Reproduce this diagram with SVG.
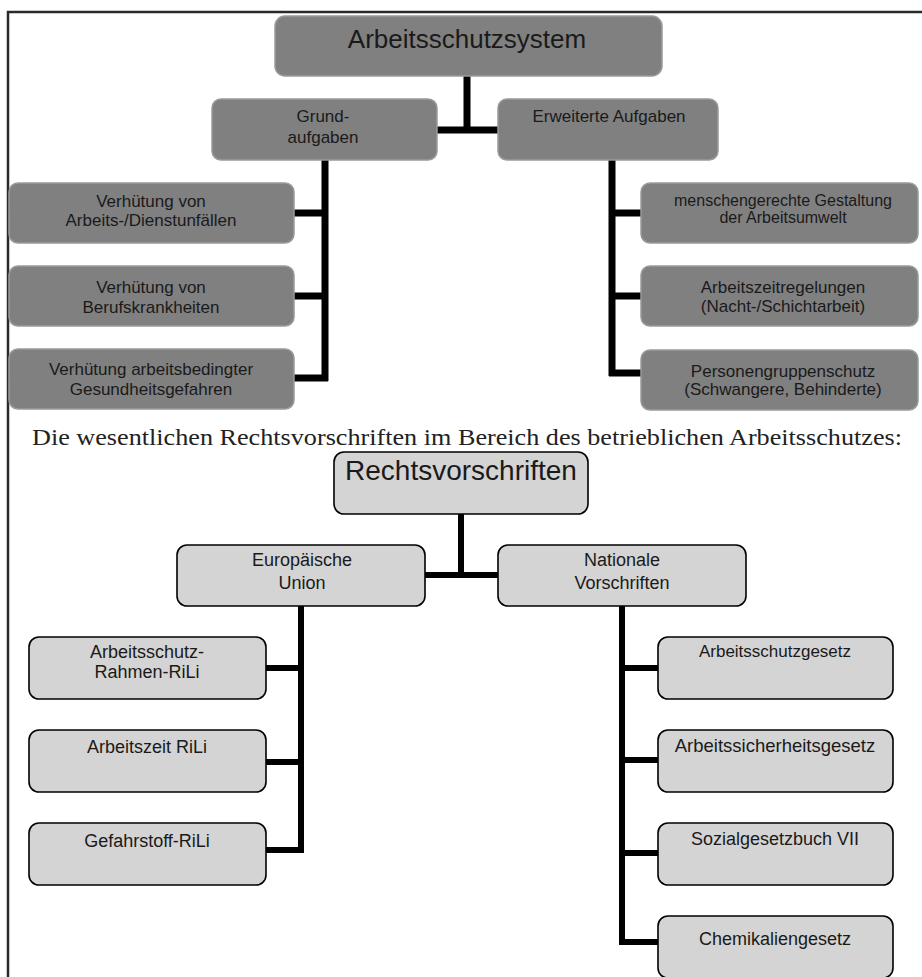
<svg xmlns="http://www.w3.org/2000/svg" width="922" height="977" viewBox="0 0 922 977">
<style>
.dk{fill:#808080;stroke:#9a9a9a;stroke-width:1.5}
.lt{fill:#d4d4d4;stroke:#000;stroke-width:1.6}
text{font-family:"Liberation Sans",Arial,sans-serif;fill:#1a1a1a;text-anchor:middle}
.t17{font-size:17px}
.t18{font-size:18px}
.t16{font-size:16px}
.c1{fill:none;stroke:#000;stroke-width:7}
.c2{fill:none;stroke:#000;stroke-width:6}
</style>
<rect width="922" height="977" fill="#fff"/>
<path d="M8 977 V12 H922" fill="none" stroke="#2a2a2a" stroke-width="2.5"/>
<g id="connectors">
<path class="c1" d="M467 76 V130 M437 130 H498"/>
<path class="c1" d="M325 160 V381 M294 213 H325 M294 296 H325 M294 378 H328"/>
<path class="c1" d="M612 160 V376 M612 213 H641 M612 296 H641 M609 373 H641"/>
<path class="c2" d="M461 514 V575 M425 575 H498"/>
<path class="c2" d="M301 606 V853 M266 668 H301 M266 762 H301 M266 850 H304"/>
<path class="c2" d="M622 606 V945 M622 668 H658 M622 760 H658 M622 853 H658 M619 942 H658"/>
</g>
<g id="n-system"><rect class="dk" x="275" y="16" width="387" height="60" rx="10"/><text x="467" y="48" style="font-size:26px">Arbeitsschutzsystem</text></g>
<g id="n-grund"><rect class="dk" x="212" y="99" width="225" height="61" rx="9"/><text class="t17" x="323" y="122">Grund-</text><text class="t17" x="323" y="143">aufgaben</text></g>
<g id="n-erw"><rect class="dk" x="498" y="99" width="220" height="61" rx="9"/><text class="t17" x="609" y="122">Erweiterte Aufgaben</text></g>
<g id="n-l1"><rect class="dk" x="9" y="183" width="285" height="60" rx="9"/><text class="t17" x="151" y="207">Verhütung von</text><text class="t17" x="151" y="226">Arbeits-/Dienstunfällen</text></g>
<g id="n-l2"><rect class="dk" x="9" y="266" width="285" height="60" rx="9"/><text class="t17" x="151" y="293">Verhütung von</text><text class="t17" x="151" y="313">Berufskrankheiten</text></g>
<g id="n-l3"><rect class="dk" x="9" y="349" width="285" height="60" rx="9"/><text class="t17" x="151" y="375">Verhütung arbeitsbedingter</text><text class="t17" x="151" y="395">Gesundheitsgefahren</text></g>
<g id="n-r1"><rect class="dk" x="641" y="183" width="277" height="60" rx="9"/><text class="t16" x="783" y="206">menschengerechte Gestaltung</text><text class="t16" x="783" y="223">der Arbeitsumwelt</text></g>
<g id="n-r2"><rect class="dk" x="641" y="266" width="277" height="60" rx="9"/><text class="t17" x="783" y="293">Arbeitszeitregelungen</text><text class="t17" x="783" y="312">(Nacht-/Schichtarbeit)</text></g>
<g id="n-r3"><rect class="dk" x="641" y="350" width="277" height="60" rx="9"/><text class="t17" x="783" y="377">Personengruppenschutz</text><text class="t17" x="783" y="395">(Schwangere, Behinderte)</text></g>
<text x="32" y="445" textLength="870" lengthAdjust="spacingAndGlyphs" style="font-family:'Liberation Serif','Times New Roman',serif;font-size:23px;text-anchor:start;fill:#222">Die wesentlichen Rechtsvorschriften im Bereich des betrieblichen Arbeitsschutzes:</text>
<g id="n-recht"><rect class="lt" x="334" y="452" width="254" height="62" rx="10"/><text x="461" y="480" style="font-size:28px">Rechtsvorschriften</text></g>
<g id="n-eu"><rect class="lt" x="177" y="545" width="248" height="61" rx="10"/><text class="t18" x="302" y="566">Europäische</text><text class="t18" x="302" y="589">Union</text></g>
<g id="n-nat"><rect class="lt" x="498" y="545" width="248" height="61" rx="10"/><text class="t18" x="622" y="566">Nationale</text><text class="t18" x="622" y="589">Vorschriften</text></g>
<g id="n-e1"><rect class="lt" x="29" y="637" width="237" height="62" rx="10"/><text class="t18" x="147" y="658">Arbeitsschutz-</text><text class="t18" x="147" y="678">Rahmen-RiLi</text></g>
<g id="n-e2"><rect class="lt" x="29" y="730" width="237" height="62" rx="10"/><text class="t18" x="147" y="753">Arbeitszeit RiLi</text></g>
<g id="n-e3"><rect class="lt" x="29" y="823" width="237" height="62" rx="10"/><text class="t18" x="147" y="847">Gefahrstoff-RiLi</text></g>
<g id="n-d1"><rect class="lt" x="658" y="637" width="235" height="62" rx="10"/><text class="t17" x="775" y="657">Arbeitsschutzgesetz</text></g>
<g id="n-d2"><rect class="lt" x="658" y="730" width="235" height="62" rx="10"/><text x="775" y="752" style="font-size:18.5px">Arbeitssicherheitsgesetz</text></g>
<g id="n-d3"><rect class="lt" x="658" y="823" width="235" height="62" rx="10"/><text class="t18" x="775" y="845">Sozialgesetzbuch VII</text></g>
<g id="n-d4"><rect class="lt" x="658" y="916" width="235" height="62" rx="10"/><text class="t18" x="775" y="945">Chemikaliengesetz</text></g>
</svg>
